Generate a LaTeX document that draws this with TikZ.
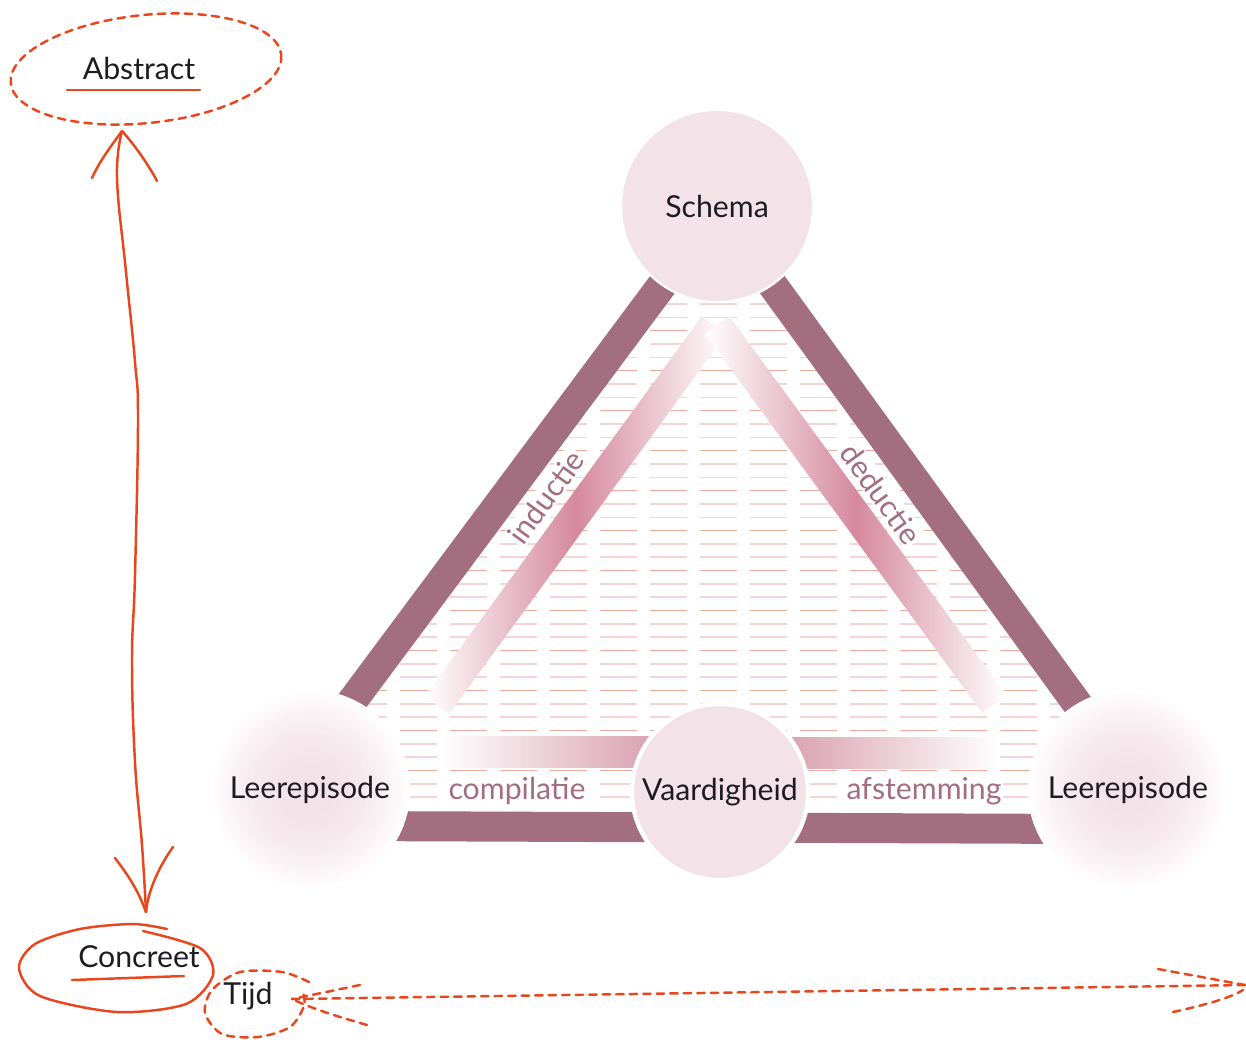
\documentclass[tikz,border=0pt]{standalone}
\usepackage{fontspec}
\setmainfont{Lato}
\usetikzlibrary{backgrounds,calc}

\definecolor{bandmauve}{RGB}{162,110,128}
\definecolor{circpink}{RGB}{243,227,232}
\definecolor{gradpink}{RGB}{213,137,158}
\definecolor{barpink}{RGB}{216,158,175}
\definecolor{glowpink}{RGB}{243,226,232}
\definecolor{hatchdark}{RGB}{238,168,158}
\definecolor{hatchlight}{RGB}{246,212,212}
\definecolor{penred}{RGB}{233,70,30}
\definecolor{inkblack}{RGB}{28,28,34}

\begin{document}
\begin{tikzpicture}[x=0.01cm,y=-0.01cm,font=\fontsize{8.6}{10}\selectfont]
\tikzstyle{bol} = [shape=circle,fill=circpink,text=inkblack,inner sep=0pt]
\tikzstyle{leer} = [shape=circle,fill=white,text=inkblack,inner sep=0pt,minimum size=2cm,
  path picture={
    \foreach \k in {0,...,30}{
      \pgfmathsetmacro\glr{100-3*\k}
      \pgfmathsetmacro\glt{(\glr-10)/90}
      \pgfmathtruncatemacro\glp{100*(1-\glt*\glt)}
      \fill[glowpink!\glp!white] (path picture bounding box.center) circle (\glr);
    }}]
\tikzstyle{lab} = [text=bandmauve,fill=white,inner sep=0.4pt]
\tikzstyle{band} = [draw=bandmauve,line width=3mm]
\tikzstyle{hand} = [draw=penred,line width=0.7pt,line cap=round,line join=round]
\tikzstyle{handdash} = [hand,dash pattern=on 0.75mm off 0.6mm]
\tikzstyle{hatch} = [line width=0.45pt,dash pattern=on 3.7mm off 1.3mm]

\useasboundingbox (0,0) rectangle (1246,1039);

\node[bol,draw=white,line width=0.6pt,minimum size=1.92cm] (schema) at (717,206) {Schema};
\node[bol,draw=white,line width=1.2pt,minimum size=1.76cm] (vaard) at (720,792) {Vaardigheid};
\node[leer] (leerL) at (310,790) {Leerepisode};
\node[leer] (leerR) at (1128,790) {Leerepisode};

\node[lab,rotate=54] (ind) at (546,497) {inductie};
\node[lab,rotate=-54] (ded) at (881,494) {deductie};
\node[lab] (comp) at (517,791) {compilatie};
\node[lab] (afst) at (924,791) {afstemming};

\coordinate (apex) at (718,210);
\coordinate (cornL) at (286,790);
\coordinate (cornR) at (1140,790);
\coordinate (baseL) at (350,826);
\coordinate (baseR) at (1090,829);

\begin{pgfonlayer}{background}
\begin{scope}
\clip (apex) -- (275,806) -- (1151,806) -- cycle;
\foreach \i in {-1,...,37}{
  \pgfmathtruncatemacro\m{mod(\i+3,3)}
  \ifnum\m=2 \def\hc{hatchdark}\else\def\hc{hatchlight}\fi
  \draw[hatch,\hc] (250,304+13.33*\i) -- (1200,304+13.33*\i);
}
\end{scope}
\draw[band] (apex) -- (cornL);
\draw[band] (apex) -- (cornR);
\draw[band] (baseL) -- (baseR);
\begin{scope}[shift={(437,705)},rotate=53.9]
\shade[left color=white,right color=white,middle color=gradpink] (0,-15) rectangle (470,15);
\end{scope}
\begin{scope}[shift={(717,325)},rotate=-53.8]
\shade[left color=white,right color=white,middle color=gradpink] (0,-15) rectangle (470,15);
\end{scope}
\shade[left color=white,right color=barpink] (440,736) rectangle (660,767);
\shade[left color=barpink,right color=white] (780,737) rectangle (1000,768);
\end{pgfonlayer}

\node[text=inkblack] (abstract) at (139,68) {Abstract};
\draw[handdash,rotate around={6:(146,69)}] (146,69) ellipse [x radius=136,y radius=54];
\draw[hand] (67,90) -- (200,90);

\coordinate (absTip) at (122,131);
\coordinate (conTip) at (146,912);
\draw[hand] plot[smooth,tension=0.7] coordinates {(absTip) (117,178) (126,272) (135,362) (138,420) (135,575) (132,660) (135,762) (142,845) (conTip)};
\draw[hand] (92,178) .. controls (100,160) and (112,145) .. (absTip) .. controls (132,142) and (147,162) .. (157,181);
\draw[hand] (115,858) .. controls (128,875) and (138,890) .. (conTip) .. controls (148,890) and (160,865) .. (173,847);

\node[text=inkblack] (concreet) at (139,957) {Concreet};
\draw[hand] plot[smooth] coordinates {(167,929) (133,924) (80,929) (35,944) (19,968) (40,996) (117,1012) (186,1004) (213,975) (200,948) (143,931)};
\draw[hand] (72,980) -- (184,976);

\node[text=inkblack] (tijd) at (248,996) {Tijd};
\draw[handdash] plot[smooth] coordinates {(309,982) (282,972) (240,972) (212,990) (205,1013) (222,1034) (258,1037) (290,1027) (304,1006) (303,992)};
\coordinate (tijdTip) at (292,999);
\coordinate (endTip) at (1245,985);
\draw[handdash] (tijdTip) -- (endTip);
\draw[handdash] (360,985) -- (tijdTip);
\draw[handdash] (367,1025) .. controls (340,1017) and (315,1010) .. (tijdTip);
\draw[handdash] (1158,969) -- (endTip);
\draw[handdash] (1173,1012) .. controls (1205,1005) and (1230,998) .. (1243,990);
\end{tikzpicture}
\end{document}
